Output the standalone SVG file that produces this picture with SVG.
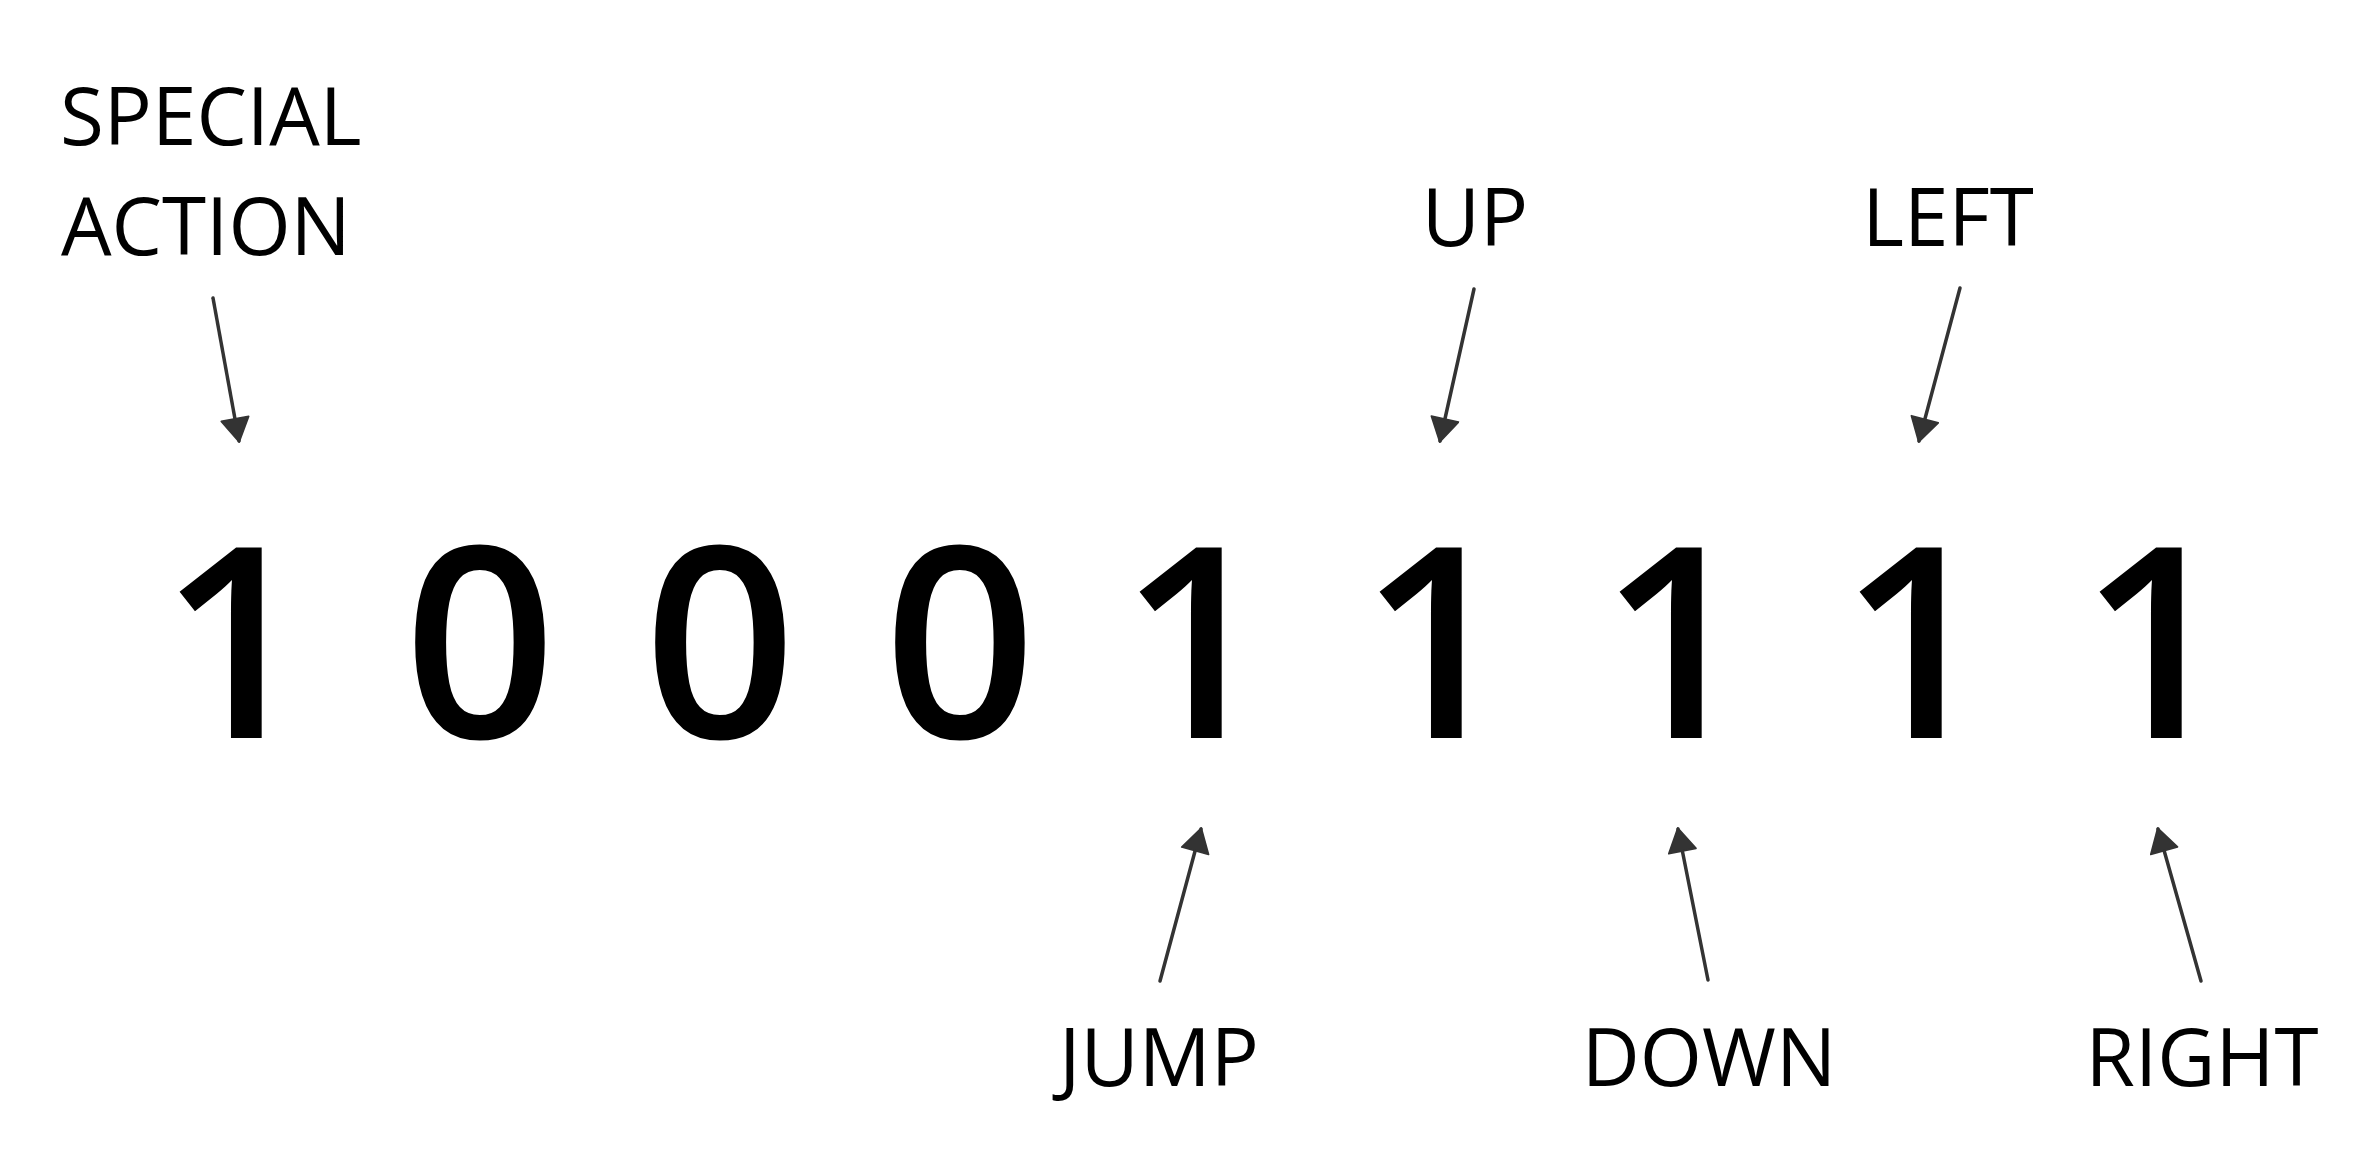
<svg xmlns="http://www.w3.org/2000/svg" width="2379" height="1171" viewBox="0 0 2379 1171">
<style>
.lbl{font-family:"Open Sans","Noto Sans",sans-serif;font-size:80px;fill:#000}
.dig{font-family:"Open Sans","Noto Sans",sans-serif;font-weight:600;font-size:267px;fill:#000;text-anchor:middle}
.arr{stroke:#333;stroke-width:3.5;stroke-linecap:round;fill:none;marker-end:url(#ah)}
</style>
<defs>
<marker id="ah" markerUnits="userSpaceOnUse" markerWidth="30" markerHeight="30" viewBox="0 0 24 28" refX="22" refY="14" orient="auto">
<path d="M1,1 L23,14 L1,27 z" fill="#333" stroke="#333" stroke-width="1.5" stroke-linejoin="round"/>
</marker>
</defs>
<rect width="2379" height="1171" fill="#fff"/>
<g id="labels">
<g id="special"><text class="lbl" x="60" y="145">SPECIAL</text><text class="lbl" x="61" y="255">ACTION</text></g>
<g id="up"><text class="lbl" x="1475" y="246" text-anchor="middle">UP</text></g>
<g id="left"><text class="lbl" x="1948" y="246" text-anchor="middle">LEFT</text></g>
<g id="jump"><text class="lbl" x="1159" y="1086" text-anchor="middle">JUMP</text></g>
<g id="down"><text class="lbl" x="1709" y="1086" text-anchor="middle">DOWN</text></g>
<g id="right"><text class="lbl" x="2202" y="1086" text-anchor="middle">RIGHT</text></g>
</g>
<g id="bits">
<text class="dig" x="236" y="738">1</text>
<text class="dig" x="480" y="738">0</text>
<text class="dig" x="720" y="738">0</text>
<text class="dig" x="960" y="738">0</text>
<text class="dig" x="1196" y="738">1</text>
<text class="dig" x="1436" y="738">1</text>
<text class="dig" x="1676" y="738">1</text>
<text class="dig" x="1916" y="738">1</text>
<text class="dig" x="2156" y="738">1</text>
</g>
<g id="connectors">
<line class="arr" x1="213" y1="298" x2="239" y2="441"/>
<line class="arr" x1="1474" y1="289" x2="1440" y2="441"/>
<line class="arr" x1="1960" y1="288" x2="1919" y2="441"/>
<line class="arr" x1="1160" y1="981" x2="1201" y2="829"/>
<line class="arr" x1="1708" y1="980" x2="1678" y2="829"/>
<line class="arr" x1="2201" y1="981" x2="2158" y2="829"/>
</g>
</svg>
